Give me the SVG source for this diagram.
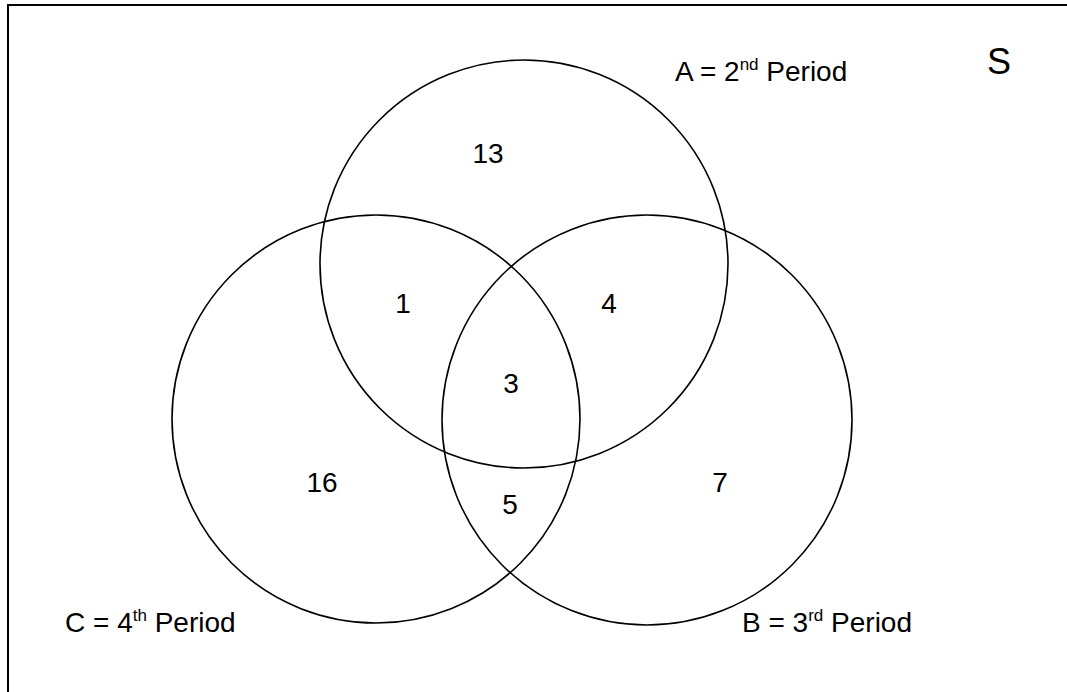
<svg xmlns="http://www.w3.org/2000/svg" width="1067" height="692" viewBox="0 0 1067 692">
<style>
.c{fill:none;stroke:#000;stroke-width:1.6}
.t{font-family:"Liberation Sans",Arial,sans-serif;font-size:28px;fill:#000}
.n{text-anchor:middle}
.sup{font-size:17px}
</style>
<rect x="0" y="0" width="1067" height="692" fill="#fff"/>
<rect id="universe" x="8" y="5" width="1080" height="700" fill="none" stroke="#000" stroke-width="2"/>
<g id="circleA"><circle class="c" cx="524" cy="264" r="204"/></g>
<g id="circleB"><circle class="c" cx="647" cy="420" r="205"/></g>
<g id="circleC"><circle class="c" cx="376" cy="419" r="204"/></g>
<g id="labels">
<text class="t" x="675" y="81">A = 2<tspan class="sup" dy="-11">nd</tspan><tspan dy="11"> Period</tspan></text>
<text class="t" x="742" y="632">B = 3<tspan class="sup" dy="-11">rd</tspan><tspan dy="11"> Period</tspan></text>
<text class="t" x="65" y="632">C = 4<tspan class="sup" dy="-11">th</tspan><tspan dy="11"> Period</tspan></text>
<text class="t" x="999" y="74" style="font-size:36px" text-anchor="middle">S</text>
</g>
<g id="counts">
<text class="t n" x="488" y="163">13</text>
<text class="t n" x="403" y="313">1</text>
<text class="t n" x="609" y="313">4</text>
<text class="t n" x="511" y="393">3</text>
<text class="t n" x="322" y="492">16</text>
<text class="t n" x="510" y="514">5</text>
<text class="t n" x="720" y="492">7</text>
</g>
</svg>
